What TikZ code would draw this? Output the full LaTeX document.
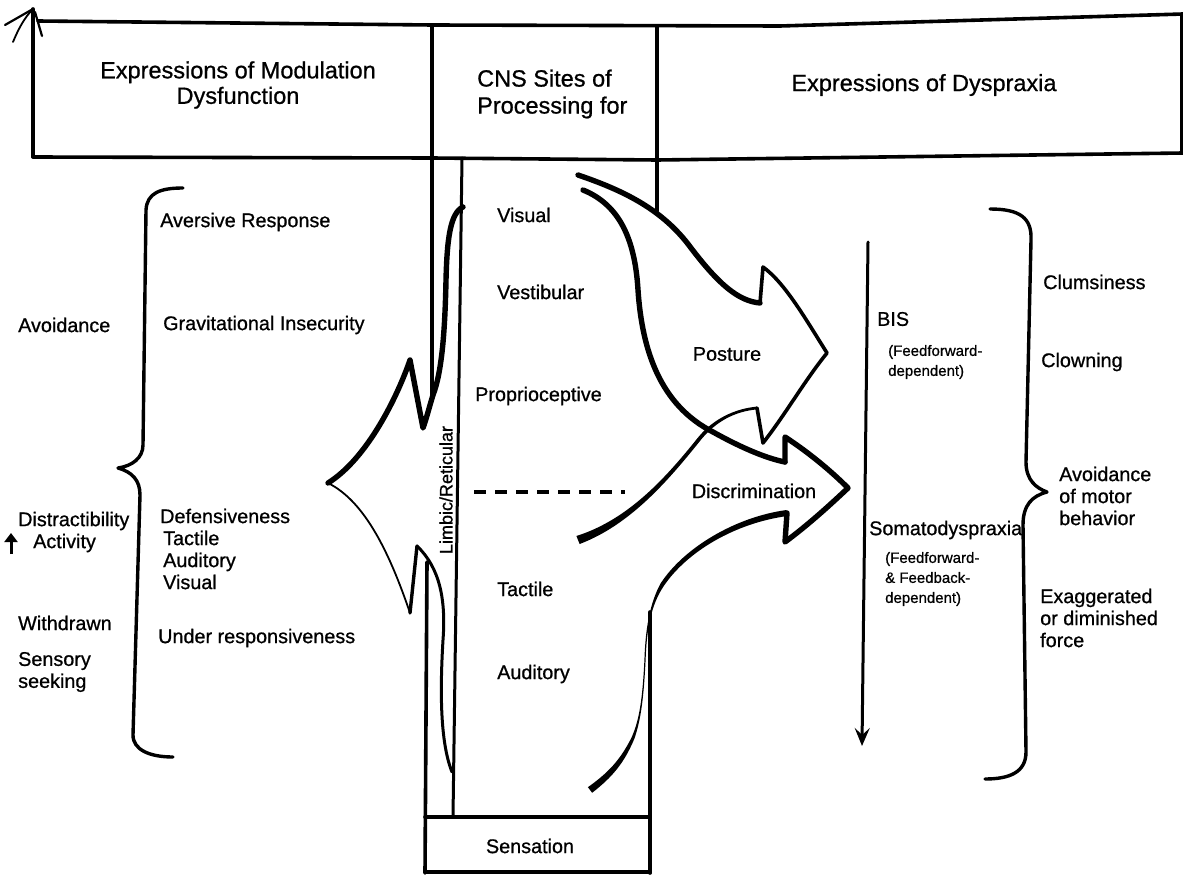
\documentclass[tikz,border=0pt]{standalone}
\usepackage{fontspec}
\setmainfont{Liberation Sans}[FakeBold=0.8]
\usetikzlibrary{arrows.meta}
\begin{document}
\begin{tikzpicture}[x=1pt,y=-1pt,line cap=round,line join=round,
  hdr/.style={font=\fontsize{23.5}{25.5}\selectfont,align=center,inner sep=0pt},
  hdrl/.style={font=\fontsize{23.5}{27}\selectfont,align=left,anchor=west,inner sep=0pt},
  txt/.style={font=\fontsize{19.8}{22}\selectfont,align=left,anchor=west,inner sep=0pt},
  sml/.style={font=\fontsize{15}{20}\selectfont,align=left,anchor=west,inner sep=0pt},
  boxline/.style={line width=3.6pt},
  colline/.style={line width=3pt},
  heavy/.style={line width=5.4pt},
  thinl/.style={line width=1.8pt}]
\useasboundingbox (0,0) rectangle (1183,875);

% ---------- header box ----------
\coordinate (tl) at (33,157);
\coordinate (tlt) at (33,9);
\draw[boxline] (tl) -- (tlt);
\draw[line width=2.2pt] (tlt) -- (5,25);
\draw[line width=1.8pt] (tlt) .. controls (24,18) and (18,30) .. (13,42);
\draw[line width=2.2pt] (35,12) -- (42,36);
\draw[boxline] (38,21) -- (432,25) -- (780,26) -- (1183,14);
\draw[boxline] (tl) -- (432,158) -- (657,160) -- (1183,153);
\draw[boxline] (1182,14) -- (1182,153);

\node[hdr] (hmod) at (238,85) {Expressions of Modulation\\Dysfunction};
\node[hdrl] (hcns) at (477,94) {CNS Sites of\\Processing for};
\node[hdr] (hdys) at (924,85) {Expressions of Dyspraxia};

% ---------- central column ----------
\draw[boxline] (432,25) -- (432,395);
\draw[boxline] (427,562) -- (425,873);
\draw[boxline] (657,26) -- (657,211);
\draw[boxline] (650,612) -- (650,873);
\draw[colline] (462,158) -- (453,817);
\draw[boxline] (425,817) -- (650,817);
\draw[boxline] (425,872) -- (650,872);
\node[txt,anchor=center] (sens) at (530,846) {Sensation};

\node[font=\fontsize{18}{20}\selectfont,rotate=90,inner sep=0pt] (limb) at (446,490) {Limbic/Reticular};

\node[txt] (cvis) at (497,215) {Visual};
\node[txt] (cvest) at (497,292) {Vestibular};
\node[txt] (cprop) at (475,396) {Proprioceptive};
\node[txt] (ctact) at (497,589) {Tactile};
\node[txt] (caud) at (497,674) {Auditory};

\coordinate (dashA) at (474,492);
\coordinate (dashB) at (625,492);
\draw[line width=3.4pt,line cap=butt,dash pattern=on 12pt off 9pt] (dashA) -- (dashB);

% ---------- left (limbic) arrow ----------
\coordinate (ltip) at (328,483);
\draw[heavy] (463,207) .. controls (450,213) and (447,240) .. (446,280)
  .. controls (445,330) and (442,372) .. (433,395)
  .. controls (429,408) and (426,420) .. (423,428) -- (410,360)
  .. controls (398,395) and (368,458) .. (ltip);
\draw[thinl] (ltip) .. controls (362,500) and (387,545) .. (410,613);
\draw[line width=3.4pt] (410,613) -- (417,546);
\draw[line width=3pt] (417,546) .. controls (440,568) and (446,600) .. (443,640)
  .. controls (440,690) and (440,742) .. (452,772);

% ---------- posture arrow ----------
\draw[heavy] (578,175) .. controls (622,190) and (660,208) .. (688,244)
  .. controls (718,284) and (738,301) .. (760,303);
\draw[line width=3.6pt] (760,303) -- (763,267)
  .. controls (785,283) and (805,318) .. (827,353)
  .. controls (805,380) and (785,415) .. (763,443) -- (757,408);
\node[txt,anchor=center] (post) at (727,354) {Posture};

% D1 : tapered, from posture notch down to the tactile side
\fill (757,406.6) .. controls (735,408.6) and (713.6,418.8) .. (698.6,436.8)
  .. controls (666.6,476.8) and (629,519.4) .. (576.4,536)
  -- (579.6,544) .. controls (631,524.6) and (669.4,479.2) .. (701.4,439.2)
  .. controls (716.4,421.2) and (735,411.4) .. (757,409.4) -- cycle;

% P2
\draw[heavy] (583,190) .. controls (620,205) and (635,240) .. (638,290)
  .. controls (642,350) and (660,405) .. (713,432)
  .. controls (740,447) and (765,458) .. (785,462);
\draw[line width=5.4pt] (785,462) -- (785,437)
  .. controls (808,452) and (830,470) .. (848,488)
  .. controls (830,505) and (808,525) .. (785,542) -- (787,513);
\node[txt,anchor=center] (disc) at (754,491) {Discrimination};

% D2 : tapered, thick - thin - thick
\fill (786.6,510) .. controls (734.6,517) and (682.9,548.6) .. (660.3,583.9)
  .. controls (649.3,604.6) and (645.4,630) .. (644.4,660)
  .. controls (642.4,700) and (639.3,720) .. (631.6,737.4)
  .. controls (620,760.5) and (608,772.8) .. (587.9,787.2)
  -- (592.1,792.8) .. controls (612,777.3) and (624,763.5) .. (634.4,738.6)
  .. controls (640.7,720) and (643.6,700) .. (645.6,660)
  .. controls (646.6,630) and (650.7,605.4) .. (663.7,586.1)
  .. controls (687.1,551.4) and (735.4,523) .. (787.4,516) -- cycle;

% ---------- braces ----------
\draw[line width=3.4pt] (183,188) .. controls (160,188) and (147,193) .. (146,210)
  -- (143,445) .. controls (143,458) and (132,466) .. (118,468)
  .. controls (132,472) and (140,480) .. (140,495)
  -- (133,735) .. controls (133,750) and (150,757) .. (173,757);
\draw[line width=3.4pt] (990,209) .. controls (1020,209) and (1032,218) .. (1031,240)
  -- (1026,462) .. controls (1026,480) and (1036,488) .. (1047,492)
  .. controls (1032,496) and (1023,505) .. (1023,525)
  -- (1026,752) .. controls (1026,772) and (1010,779) .. (985,779);

% ---------- downward arrow ----------
\coordinate (dtop) at (868,242);
\coordinate (dbot) at (862,746);
\draw[line width=3pt,-{Stealth[length=18pt,width=15pt,inset=7pt]}] (dtop) -- (dbot);

% ---------- left texts ----------
\node[txt] (avr) at (160,222) {Aversive Response};
\node[txt] (avd) at (18,325) {Avoidance};
\node[txt] (grav) at (163,325) {Gravitational Insecurity};
\node[txt] (dist) at (18,521) {Distractibility};
\node[txt] (act) at (33,543) {Activity};
\draw[line width=3pt,line cap=butt,-{Triangle[length=9pt,width=13pt]}] (11,554) -- (11,533);
\node[txt] (def) at (160,549) {Defensiveness\\\hspace*{3pt}Tactile\\\hspace*{3pt}Auditory\\\hspace*{3pt}Visual};
\node[txt] (with) at (18,623) {Withdrawn};
\node[txt] (under) at (158,638) {Under responsiveness};
\node[txt] (seek) at (18,672) {Sensory\\seeking};

% ---------- right texts ----------
\node[txt] (bis) at (877,319) {BIS};
\node[sml] (bisff) at (888,362) {(Feedforward-\\dependent)};
\node[txt] (soma) at (869,530) {Somatodyspraxia};
\node[sml] (somaff) at (885,579) {(Feedforward-\\\&\ Feedback-\\dependent)};
\node[txt] (clum) at (1043,282) {Clumsiness};
\node[txt] (clow) at (1041,362) {Clowning};
\node[txt] (avm) at (1059,496) {Avoidance\\of motor\\behavior};
\node[txt] (exag) at (1040,618) {Exaggerated\\or diminished\\force};
\end{tikzpicture}
\end{document}
